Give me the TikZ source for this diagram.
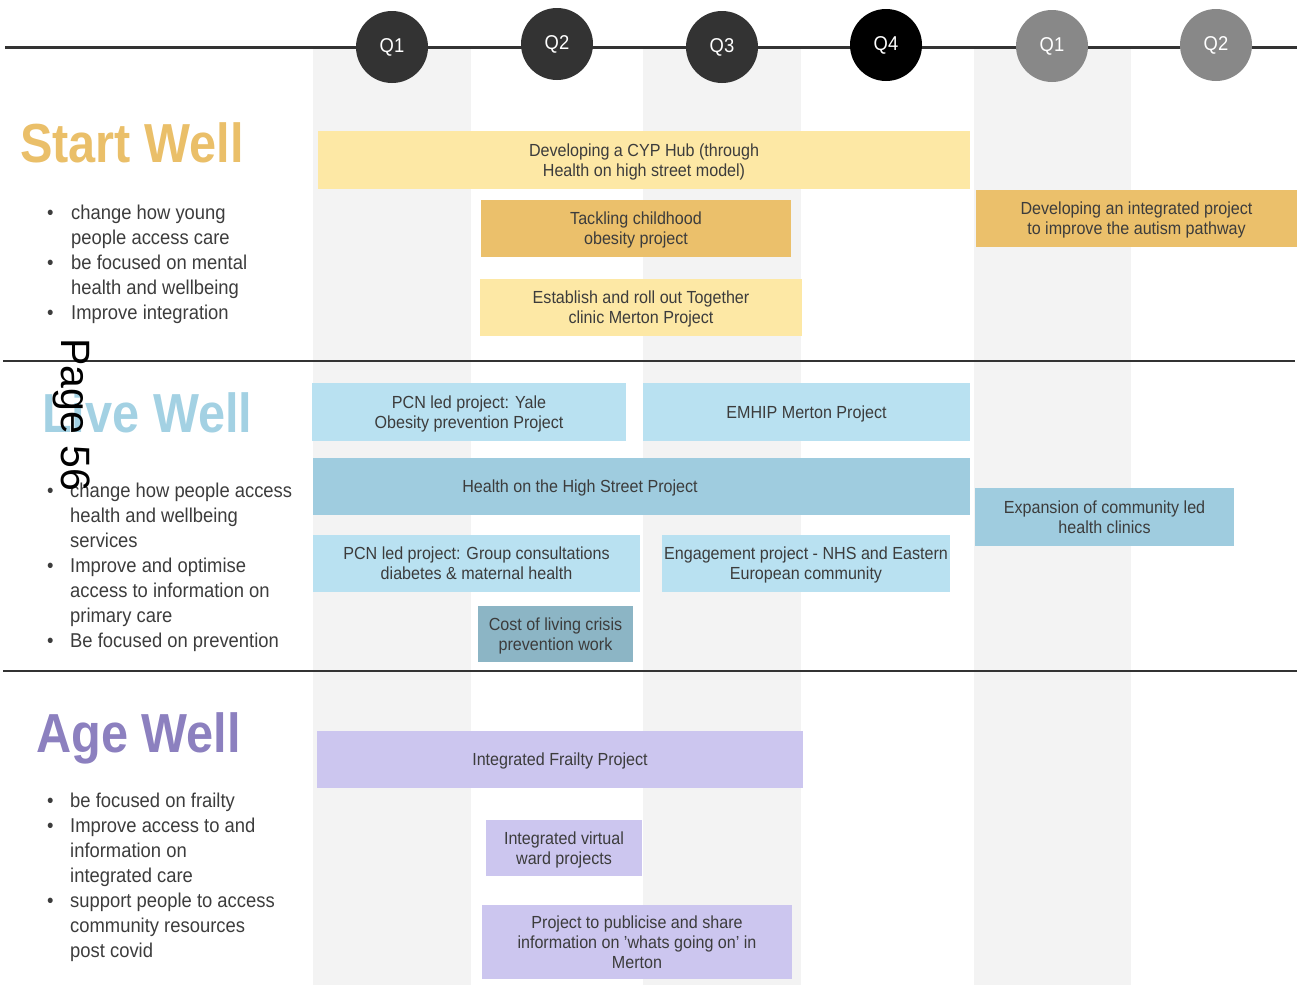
\documentclass[tikz,border=0pt]{standalone}
\usepackage{fontspec}
\setmainfont[FakeStretch=0.92]{Liberation Sans}
\newfontfamily\titlefont[FakeStretch=0.885]{Liberation Sans}
\newfontfamily\pagefont{Liberation Sans}
\usepackage{tikz}
\usetikzlibrary{positioning}

\definecolor{stripe}{HTML}{F3F3F3}
\definecolor{linedark}{HTML}{333333}
\definecolor{qgray}{HTML}{888888}
\definecolor{txt}{HTML}{3C3C3C}
\definecolor{startgold}{HTML}{EABF69}
\definecolor{yellowpale}{HTML}{FDE8A5}
\definecolor{goldbox}{HTML}{EBC06B}
\definecolor{livetitle}{HTML}{A3D1E3}
\definecolor{bluepale}{HTML}{B9E1F1}
\definecolor{bluemid}{HTML}{9FCCDF}
\definecolor{bluedeep}{HTML}{8CB5C5}
\definecolor{agetitle}{HTML}{8C80BF}
\definecolor{lavender}{HTML}{CCC6EF}

\tikzset{
  project/.style={rectangle, inner sep=0pt, align=center, text=txt, text depth=0pt,
    font=\fontsize{17.5}{20}\selectfont},
  quarter/.style={circle, minimum size=72pt, inner sep=0pt, text=white,
    font=\fontsize{20}{22}\selectfont},
  theme/.style={anchor=base west, inner sep=0pt,
    font=\titlefont\bfseries\fontsize{55}{60}\selectfont},
  aims/.style={anchor=north west, inner sep=0pt, text=txt,
    font=\fontsize{20}{25}\selectfont},
  divider/.style={linedark, line width=2.5pt}
}

\begin{document}
\begin{tikzpicture}[x=1pt, y=-1pt]
  \useasboundingbox (0,0) rectangle (1297,985);

  % Quarter stripes
  \fill[stripe] (313,47) rectangle (471,985);
  \fill[stripe] (643,47) rectangle (801,985);
  \fill[stripe] (974,47) rectangle (1131,985);

  % Timeline
  \coordinate (tstart) at (5,47);
  \coordinate (tend) at (1297,47);
  \draw[linedark, line width=3pt] (tstart) -- (tend);
  \node[quarter, fill=linedark] (q1a) at (392,47) {Q1};
  \node[quarter, fill=linedark] (q2a) at (557,44) {Q2};
  \node[quarter, fill=linedark] (q3a) at (722,47) {Q3};
  \node[quarter, fill=black] (q4a) at (886,45) {Q4};
  \node[quarter, fill=qgray] (q1b) at (1052,46) {Q1};
  \node[quarter, fill=qgray] (q2b) at (1216,45) {Q2};

  % Section dividers
  \draw[divider] (3,361) -- (1295,361);
  \draw[divider] (3,671) -- (1297,671);

  % Start Well
  \node[theme, text=startgold] (startwell) at (20,162) {Start Well};
  \node[aims] (startaims) at (47,201.5) {%
    \begin{tabular}{@{}p{24pt}@{}l@{}}
      \textbullet & change how young\\
                  & people access care\\
      \textbullet & be focused on mental\\
                  & health and wellbeing\\
      \textbullet & Improve integration
    \end{tabular}};
  \node[project, fill=yellowpale, minimum width=652, minimum height=58] (cyphub) at (644,160)
    {Developing a CYP Hub (through\\Health on high street model)};
  \node[project, fill=goldbox, minimum width=310, minimum height=57] (obesity) at (636,228.5)
    {Tackling childhood\\obesity project};
  \node[project, fill=yellowpale, minimum width=322, minimum height=57] (together) at (641,307.5)
    {Establish and roll out Together\\clinic Merton Project};
  \node[project, fill=goldbox, minimum width=321, minimum height=57] (autism) at (1136.5,218.5)
    {Developing an integrated project\\to improve the autism pathway};

  % Live Well
  \node[theme, text=livetitle] (livewell) at (42,432) {Live Well};
  \node[aims] (liveaims) at (47,479.5) {%
    \begin{tabular}{@{}p{23pt}@{}l@{}}
      \textbullet & change how people access\\
                  & health and wellbeing\\
                  & services\\
      \textbullet & Improve and optimise\\
                  & access to information on\\
                  & primary care\\
      \textbullet & Be focused on prevention
    \end{tabular}};
  \node[project, fill=bluepale, minimum width=314, minimum height=58] (yale) at (469,412)
    {PCN led project: Yale\\Obesity prevention Project};
  \node[project, fill=bluepale, minimum width=327, minimum height=58] (emhip) at (806.5,412)
    {EMHIP Merton Project};
  \node[project, fill=bluemid, minimum width=657, minimum height=57] (highstreet) at (641.5,486.5) {};
  \node[project] (highstreettext) at (580,486.5) {Health on the High Street Project};
  \node[project, fill=bluemid, minimum width=259, minimum height=58] (clinics) at (1104.5,517)
    {Expansion of community led\\health clinics};
  \node[project, fill=bluepale, minimum width=327, minimum height=57] (groupcons) at (476.5,563.5)
    {PCN led project: Group consultations\\diabetes \& maternal health};
  \node[project, fill=bluepale, minimum width=288, minimum height=57] (engagement) at (806,563.5)
    {Engagement project - NHS and Eastern\\European community};
  \node[project, fill=bluedeep, minimum width=155, minimum height=56] (costliving) at (555.5,634)
    {Cost of living crisis\\prevention work};

  % Age Well
  \node[theme, text=agetitle] (agewell) at (36,752) {Age Well};
  \node[aims] (ageaims) at (47,789.5) {%
    \begin{tabular}{@{}p{23pt}@{}l@{}}
      \textbullet & be focused on frailty\\
      \textbullet & Improve access to and\\
                  & information on\\
                  & integrated care\\
      \textbullet & support people to access\\
                  & community resources\\
                  & post covid
    \end{tabular}};
  \node[project, fill=lavender, minimum width=486, minimum height=57] (frailty) at (560,759.5)
    {Integrated Frailty Project};
  \node[project, fill=lavender, minimum width=156, minimum height=56] (virtualward) at (564,848)
    {Integrated virtual\\ward projects};
  \node[project, fill=lavender, minimum width=310, minimum height=74] (publicise) at (637,942)
    {Project to publicise and share\\information on 'whats going on' in\\Merton};

  % Page stamp
  \node[rotate=-90, anchor=base west, inner sep=0pt,
    font=\pagefont\fontsize{41}{45}\selectfont] (pagestamp) at (61,338) {Page 56};
\end{tikzpicture}
\end{document}
